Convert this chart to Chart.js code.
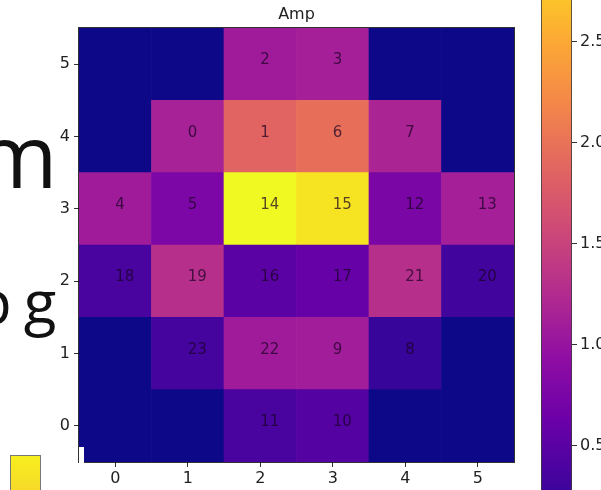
<!DOCTYPE html>
<html>
<head>
<meta charset="utf-8">
<script src="https://cdn.jsdelivr.net/npm/chart.js@4.4.1/dist/chart.umd.min.js"></script>
<style>
  html, body { margin: 0; padding: 0; background: #fff; }
  body { width: 601px; height: 490px; position: relative; overflow: hidden; }
  #heat { position: absolute; left: 0; top: 0; }
  #cbar { position: absolute; left: 520px; top: 0; }
  .big { position: absolute; font-family: "Open Sans"; line-height: 1; color: #111; white-space: pre; }
  #notch { position: absolute; left: 79px; top: 447px; width: 5px; height: 16px; background: #fff; }
  #swatch { position: absolute; left: 10px; top: 455px; width: 29px; height: 40px; border: 1px solid #777;
            background: linear-gradient(#f7ef1e, #f6d62a); }
</style>
</head>
<body>
<div class="big" style="left:-24px; top:110px; font-size:88px;">m</div>
<div class="big" style="left:-25px; top:271px; font-size:60px; letter-spacing:12px;">pg</div>
<canvas id="heat" width="530" height="490"></canvas>
<canvas id="cbar" width="81" height="490"></canvas>
<div id="notch"></div>
<div id="swatch"></div>
<script>
// x / y tick labels of the grid
var xLabels = ['0', '1', '2', '3', '4', '5'];
var rows = [0, 1, 2, 3, 4, 5];
var yTicks = [0, 1, 2, 3, 4, 5];
var colorbarTicks = [0.5, 1.0, 1.5, 2.0, 2.5];
var vMin = 0, vMax = 3.1;

// amplitude per row (row 0 is the bottom one), columns 0..5
var ampRow0 = [0, 0, 0.37, 0.45, 0, 0];
var ampRow1 = [0, 0.34, 1.08, 1.10, 0.25, 0];
var ampRow2 = [0.37, 1.30, 0.50, 0.59, 1.30, 0.31];
var ampRow3 = [1.08, 0.78, 3.10, 2.95, 0.76, 1.12];
var ampRow4 = [0, 1.15, 1.86, 1.97, 1.18, 0];
var ampRow5 = [0, 0, 1.08, 1.12, 0, 0];

// channel number written in each cell
var chanRow0 = [null, null, 11, 10, null, null];
var chanRow1 = [null, 23, 22, 9, 8, null];
var chanRow2 = [18, 19, 16, 17, 21, 20];
var chanRow3 = [4, 5, 14, 15, 12, 13];
var chanRow4 = [null, 0, 1, 6, 7, null];
var chanRow5 = [null, null, 2, 3, null, null];

var ampRows = [ampRow0, ampRow1, ampRow2, ampRow3, ampRow4, ampRow5];
var chanRows = [chanRow0, chanRow1, chanRow2, chanRow3, chanRow4, chanRow5];

// plasma colormap
var plasmaStops = ['#0d0887', '#41049d', '#6a00a8', '#8f0da4', '#b12a90', '#cc4778',
                   '#e16462', '#f2844b', '#fca636', '#fcce25', '#f0f921'];
function hexRgb(h) {
    return [parseInt(h.substr(1, 2), 16), parseInt(h.substr(3, 2), 16), parseInt(h.substr(5, 2), 16)];
}
function plasma(v) {
    var t = (v - vMin) / (vMax - vMin);
    t = Math.max(0, Math.min(1, t));
    var p = t * (plasmaStops.length - 1);
    var i = Math.min(Math.floor(p), plasmaStops.length - 2);
    var f = p - i;
    var a = hexRgb(plasmaStops[i]), b = hexRgb(plasmaStops[i + 1]);
    return 'rgb(' + [0, 1, 2].map(function(k){ return Math.round(a[k] + (b[k] - a[k]) * f); }).join(',') + ')';
}

var tickFont = { family: 'DejaVu Sans', size: 16 };

var frame = {
    id: 'frame',
    afterDraw: function(chart) {
        var a = chart.chartArea, ctx = chart.ctx;
        ctx.save();
        ctx.strokeStyle = 'rgba(0,0,0,0.8)';
        ctx.lineWidth = 1;
        ctx.strokeRect(Math.round(a.left) - 0.5, Math.round(a.top) - 0.5,
                       Math.round(a.right - a.left) + 1, Math.round(a.bottom - a.top) + 1);
        ctx.restore();
    }
};

var cellText = {
    id: 'cellText',
    afterDatasetsDraw: function(chart) {
        var ctx = chart.ctx, x = chart.scales.x, y = chart.scales.y;
        ctx.save();
        ctx.font = '15px "DejaVu Sans"';
        ctx.fillStyle = 'rgba(25,0,35,0.72)';
        ctx.textAlign = 'left';
        ctx.textBaseline = 'alphabetic';
        rows.forEach(function(r, i){
            chanRows[i].forEach(function(ch, c){
                if (ch === null) return;
                ctx.fillText(String(ch), x.getPixelForValue(c), y.getPixelForValue(r));
            });
        });
        ctx.restore();
    }
};

var datasets = rows.map(function(r, i){
    return {
        label: 'row ' + r,
        data: ampRows[i].map(function(){ return [r - 0.5, r + 0.5]; }),
        backgroundColor: ampRows[i].map(plasma),
        borderWidth: 0,
        barPercentage: 1,
        categoryPercentage: 1,
        grouped: false
    };
});

var heat = new Chart(document.getElementById('heat'), {
    type: 'bar',
    data: { labels: xLabels, datasets: datasets },
    options: {
        responsive: false,
        animation: false,
        layout: { padding: { left: 0, right: 16, top: 0, bottom: 0 } },
        plugins: {
            legend: { display: false },
            tooltip: { enabled: false },
            title: {
                display: true, text: 'Amp', fullSize: false, color: '#222',
                font: { family: 'DejaVu Sans', size: 16, weight: 'normal' },
                padding: { top: 5, bottom: 3.8 }
            }
        },
        scales: {
            x: {
                grid: { display: true, drawOnChartArea: false, offset: false, tickLength: 5, color: '#333' },
                border: { display: false },
                ticks: { font: tickFont, color: '#222', padding: 2 },
                afterFit: function(s){ s.height = 28; s.paddingLeft = 0; s.paddingRight = 0; }
            },
            y: {
                type: 'linear', min: -0.5, max: 5.5,
                afterBuildTicks: function(s){ s.ticks = yTicks.map(function(v){ return { value: v }; }); },
                grid: { drawOnChartArea: false, tickLength: 5, color: '#333' },
                border: { display: false },
                ticks: { font: tickFont, color: '#222', padding: 4 },
                afterFit: function(s){ s.width = 79; s.paddingTop = 0; s.paddingBottom = 0; }
            }
        }
    },
    plugins: [cellText, frame]
});

function barGradient(chart) {
    var area = chart.chartArea;
    if (!area) return null;
    var y = chart.scales.y;
    var g = chart.ctx.createLinearGradient(0, y.getPixelForValue(vMin), 0, y.getPixelForValue(vMax));
    plasmaStops.forEach(function(c, i){ g.addColorStop(i / (plasmaStops.length - 1), c); });
    return g;
}

var cbFrame = {
    id: 'cbFrame',
    afterDraw: function(chart) {
        var a = chart.chartArea, ctx = chart.ctx;
        ctx.save();
        ctx.strokeStyle = 'rgba(60,60,60,0.8)';
        ctx.lineWidth = 1;
        ctx.beginPath();
        ctx.moveTo(Math.round(a.left) + 0.5, 0); ctx.lineTo(Math.round(a.left) + 0.5, a.bottom);
        ctx.moveTo(Math.round(a.right) - 0.5, 0); ctx.lineTo(Math.round(a.right) - 0.5, a.bottom);
        ctx.stroke();
        ctx.restore();
    }
};

var cbar = new Chart(document.getElementById('cbar'), {
    type: 'bar',
    data: {
        labels: ['Amp'],
        datasets: [{
            data: [[vMin, vMax]],
            backgroundColor: function(c){ return barGradient(c.chart); },
            borderWidth: 0,
            barPercentage: 1,
            categoryPercentage: 1,
            clip: 0
        }]
    },
    options: {
        responsive: false,
        animation: false,
        layout: { padding: { left: 21, right: 0, top: 0, bottom: 0 } },
        plugins: { legend: { display: false }, tooltip: { enabled: false } },
        scales: {
            x: { display: false },
            y: {
                position: 'right', min: 0.281, max: 2.707,
                afterBuildTicks: function(s){ s.ticks = colorbarTicks.map(function(v){ return { value: v }; }); },
                grid: { drawOnChartArea: false, tickLength: 5, color: '#333' },
                border: { display: false },
                ticks: { font: tickFont, color: '#222', padding: 3,
                         callback: function(v){ return Number(v).toFixed(1); } },
                afterFit: function(s){ s.width = 29; s.paddingTop = 0; s.paddingBottom = 0; }
            }
        }
    },
    plugins: [cbFrame]
});
</script>
</body>
</html>
